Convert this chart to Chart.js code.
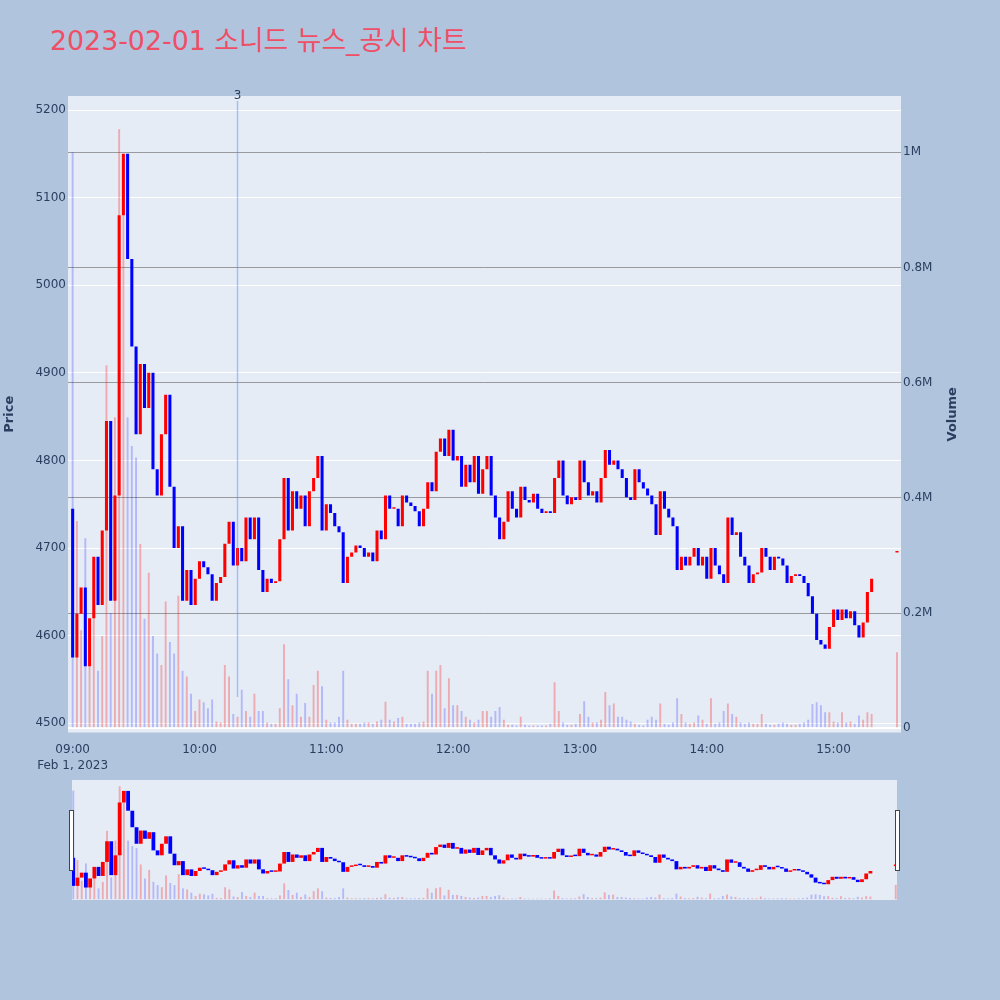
<!DOCTYPE html>
<html>
<head>
<meta charset="utf-8">
<title>2023-02-01 소니드 뉴스_공시 차트</title>
<script src="https://cdn.jsdelivr.net/npm/chart.js@4.4.1/dist/chart.umd.min.js"></script>
<style>
  html, body { margin: 0; padding: 0; background: #b0c4de; }
  #wrap { position: relative; width: 1000px; height: 1000px; background: #b0c4de; overflow: hidden; }
  #title { position: absolute; left: 50px; top: 28px; font-size: 26.8px; line-height: 26px;
           font-family: "DejaVu Sans", "Noto Sans CJK KR", sans-serif; color: #ef4f66; white-space: nowrap; }
  #main { position: absolute; left: 0; top: 0; }
  #slider { position: absolute; left: 72px; top: 780px; background: #e5ecf6; }
  .handle { position: absolute; top: 810px; width: 3px; height: 59px; background: #fff; border: 1px solid #444; }
</style>
</head>
<body>
<div id="wrap">
  <div id="title">2023-02-01 소니드 뉴스_공시 차트</div>
  <canvas id="main" width="1000" height="772"></canvas>
  <canvas id="slider" width="825" height="120"></canvas>
  <div class="handle" style="left:69px"></div>
  <div class="handle" style="left:895px"></div>
</div>
<script>
// 2-minute bars from 09:00, open of each bar = close of the one before
const startTime = '09:00'
const barMinutes = 2
const firstOpen = 4745
const closes = [
  4575, 4625, 4655, 4565, 4620, 4690, 4635, 4720, 4845, 4640,
  4760, 5080, 5150, 5030, 4930, 4830, 4910, 4860, 4900, 4790,
  4760, 4830, 4875, 4770, 4700, 4725, 4640, 4675, 4635, 4665,
  4685, 4678, 4670, 4640, 4660, 4667, 4705, 4730, 4680, 4700,
  4685, 4735, 4710, 4735, 4675, 4650, 4665, 4660, 4662, 4710,
  4780, 4720, 4765, 4745, 4760, 4725, 4765, 4780, 4805, 4720,
  4750, 4740, 4725, 4718, 4660, 4690, 4695, 4703, 4700, 4690,
  4695, 4685, 4720, 4710, 4760, 4745, 4745, 4725, 4760, 4752,
  4748, 4742, 4725, 4745, 4775, 4765, 4810, 4825, 4805, 4835,
  4800, 4805, 4770, 4795, 4775, 4805, 4762, 4790, 4805, 4760,
  4735, 4710, 4730, 4765, 4745, 4735, 4770, 4755, 4752, 4762,
  4745, 4740, 4742, 4740, 4780, 4800, 4760, 4750, 4758, 4755,
  4800, 4775, 4760, 4765, 4752, 4780, 4812, 4795, 4800, 4790,
  4780, 4758, 4755, 4790, 4775, 4768, 4760, 4750, 4715, 4765,
  4745, 4735, 4725, 4675, 4690, 4680, 4690, 4700, 4680, 4690,
  4665, 4700, 4680, 4670, 4660, 4735, 4715, 4718, 4690, 4680,
  4660, 4670, 4672, 4700, 4690, 4675, 4690, 4688, 4680, 4660,
  4668, 4670, 4668, 4660, 4645, 4625, 4595, 4590, 4585, 4610,
  4630, 4618, 4630, 4620, 4628, 4612, 4598, 4615, 4650, 4665
]
// volume in thousands of shares
const volumesK = [
  1000, 360, 170, 330, 120, 200, 100, 160, 630, 200,
  540, 1040, 990, 540, 490, 470, 320, 190, 270, 160,
  130, 110, 220, 150, 130, 230, 100, 90, 60, 30,
  50, 45, 35, 50, 12, 10, 110, 90, 25, 20,
  67, 30, 20, 60, 30, 30, 10, 8, 8, 35,
  146, 85, 40, 60, 20, 44, 20, 75, 100, 73,
  15, 10, 10, 20, 100, 15, 8, 8, 8, 10,
  10, 8, 12, 15, 46, 15, 12, 18, 20, 8,
  8, 8, 10, 12, 100, 60, 100, 110, 35, 87,
  40, 40, 30, 20, 15, 10, 15, 30, 30, 20,
  30, 37, 15, 6, 6, 5, 20, 6, 5, 5,
  5, 5, 5, 8, 80, 30, 10, 6, 6, 8,
  25, 47, 20, 10, 10, 15, 63, 40, 43, 20,
  20, 15, 12, 8, 6, 5, 15, 20, 15, 43,
  8, 6, 10, 52, 25, 10, 8, 10, 22, 15,
  8, 52, 8, 10, 30, 43, 25, 20, 10, 8,
  10, 8, 8, 25, 8, 6, 6, 8, 10, 8,
  6, 6, 8, 10, 15, 42, 45, 40, 28, 28,
  12, 10, 28, 10, 12, 8, 22, 15, 28, 25
]
// closing auction
const auctionTime = '15:30'
const auctionPrice = 4695
const auctionVolumeK = 132

const dayLow = 4530
const newsTimes = ['10:18']
const newsLabels = ['3']

const tickLabels = ['09:00', '10:00', '11:00', '12:00', '13:00', '14:00', '15:00']
const dateLabel = 'Feb 1, 2023'
const priceTicks = [4500, 4600, 4700, 4800, 4900, 5000, 5100, 5200]
const volumeTicks = [0, 200000, 400000, 600000, 800000, 1000000]

const textColor = '#2a3f5f'
const upColor = '#ff0000'
const downColor = '#0000ff'
const upVol = 'rgba(255,0,0,0.28)'
const downVol = 'rgba(0,0,255,0.22)'

Chart.defaults.font.family = '"DejaVu Sans", Verdana, sans-serif'
Chart.defaults.font.size = 12
Chart.defaults.color = textColor

function toMinutes(t) {
  const p = t.split(':')
  const s = startTime.split(':')
  return (+p[0]) * 60 + (+p[1]) - ((+s[0]) * 60 + (+s[1]))
}
const tickMinutes = tickLabels.map(toMinutes)

const priceData = closes.map((c, i) => ({ x: i * barMinutes, y: [i === 0 ? firstOpen : closes[i - 1], c] }))
priceData.push({ x: toMinutes(auctionTime), y: [auctionPrice, auctionPrice] })
const isUp = priceData.map(d => d.y[1] >= d.y[0])
const volData = volumesK.map((v, i) => ({ x: i * barMinutes, y: v * 1000 }))
volData.push({ x: toMinutes(auctionTime), y: auctionVolumeK * 1000 })

const candleColors = isUp.map(u => u ? upColor : downColor)
const volColors = isUp.map(u => u ? upVol : downVol)

const plotBg = {
  id: 'plotBg',
  beforeDraw(chart) {
    const a = chart.chartArea
    const ctx = chart.ctx
    ctx.save()
    ctx.fillStyle = '#e5ecf6'
    ctx.fillRect(a.left, a.top, a.right - a.left, a.bottom - a.top)
    ctx.restore()
  }
}

const newsLines = {
  id: 'newsLines',
  afterDatasetsDraw(chart) {
    const { ctx, chartArea, scales } = chart
    newsTimes.forEach((t, k) => {
      const px = scales.x.getPixelForValue(toMinutes(t))
      ctx.save()
      ctx.strokeStyle = 'rgba(90,130,230,0.45)'
      ctx.lineWidth = 1.5
      ctx.beginPath()
      ctx.moveTo(px, chartArea.top + 5)
      ctx.lineTo(px, scales.y.getPixelForValue(dayLow))
      ctx.stroke()
      ctx.fillStyle = textColor
      ctx.font = '12px "DejaVu Sans"'
      ctx.textAlign = 'center'
      ctx.textBaseline = 'bottom'
      ctx.fillText(newsLabels[k], px, chartArea.top + 6)
      ctx.restore()
    })
  }
}

// right axis title reads bottom-to-top, so it is drawn here
const volumeTitle = {
  id: 'volumeTitle',
  afterDraw(chart) {
    const { ctx, chartArea } = chart
    ctx.save()
    ctx.translate(953, (chartArea.top + chartArea.bottom) / 2)
    ctx.rotate(-Math.PI / 2)
    ctx.fillStyle = textColor
    ctx.font = 'bold 13px "DejaVu Sans"'
    ctx.textAlign = 'center'
    ctx.textBaseline = 'middle'
    ctx.fillText('Volume', 0, 0)
    ctx.restore()
  }
}

function datasets(candleWidth, volWidth) {
  return [
    {
      type: 'bar', label: 'Price', data: priceData.map(d => ({ x: d.x, y: d.y.slice() })), yAxisID: 'y',
      backgroundColor: candleColors, borderWidth: 0,
      barPercentage: candleWidth, categoryPercentage: 1, grouped: false, minBarLength: 1.5, order: 0
    },
    {
      type: 'bar', label: 'Volume', data: volData.map(d => ({ x: d.x, y: d.y })), yAxisID: 'y1',
      backgroundColor: volColors, borderWidth: 0,
      barPercentage: volWidth, categoryPercentage: 1, grouped: false, order: 1
    }
  ]
}

const mainChart = new Chart(document.getElementById('main'), {
  type: 'bar',
  data: { datasets: datasets(0.72, 0.45) },
  options: {
    responsive: false,
    animation: false,
    layout: { padding: { top: 96, left: 0, right: 0, bottom: 0 } },
    plugins: { legend: { display: false }, tooltip: { enabled: false } },
    scales: {
      x: {
        type: 'linear', min: -2.2, max: 391.9, offset: false,
        grid: { display: false }, border: { display: false },
        ticks: {
          autoSkip: false, maxRotation: 0, padding: 1.5, color: textColor,
          font: { size: 12, lineHeight: 1.3 },
          callback: v => {
            const k = tickMinutes.indexOf(v)
            if (k < 0) return ''
            return k === 0 ? [tickLabels[0], dateLabel] : tickLabels[k]
          }
        },
        afterBuildTicks: s => { s.ticks = tickMinutes.map(v => ({ value: v })) },
        afterFit: s => { s.height = 39.5 }
      },
      y: {
        position: 'left', min: 4489.5, max: 5216,
        grid: { color: '#ffffff', lineWidth: 1, drawTicks: false }, border: { display: false },
        ticks: { padding: 2, color: textColor, callback: v => String(v) },
        afterBuildTicks: s => { s.ticks = priceTicks.map(v => ({ value: v })) },
        afterFit: s => { s.width = 68 },
        title: { display: true, text: 'Price', color: textColor, font: { size: 13, weight: 'bold' }, padding: { top: 2, bottom: 0 } }
      },
      y1: {
        position: 'right', min: -7300, max: 1097500,
        grid: {
          color: c => (c.tick && c.tick.value === 0) ? '#ffffff' : 'rgba(110,110,110,0.65)',
          lineWidth: c => (c.tick && c.tick.value === 0) ? 2 : 1,
          drawTicks: false
        },
        border: { display: false },
        ticks: { padding: 2, color: textColor, callback: v => v === 0 ? '0' : (v / 1e6) + 'M' },
        afterBuildTicks: s => { s.ticks = volumeTicks.map(v => ({ value: v })) },
        afterFit: s => { s.width = 99 }
      }
    }
  },
  plugins: [plotBg, newsLines, volumeTitle]
})

// range slider preview
const sliderChart = new Chart(document.getElementById('slider'), {
  type: 'bar',
  data: { datasets: datasets(0.9, 0.45) },
  options: {
    responsive: false,
    animation: false,
    layout: { padding: 0 },
    plugins: { legend: { display: false }, tooltip: { enabled: false } },
    scales: {
      x: { type: 'linear', min: -0.6, max: 390.6, offset: false, display: false },
      y: { min: 4489.5, max: 5216, display: false },
      y1: { min: -7300, max: 1097500, display: false }
    }
  }
})
</script>
</body>
</html>
